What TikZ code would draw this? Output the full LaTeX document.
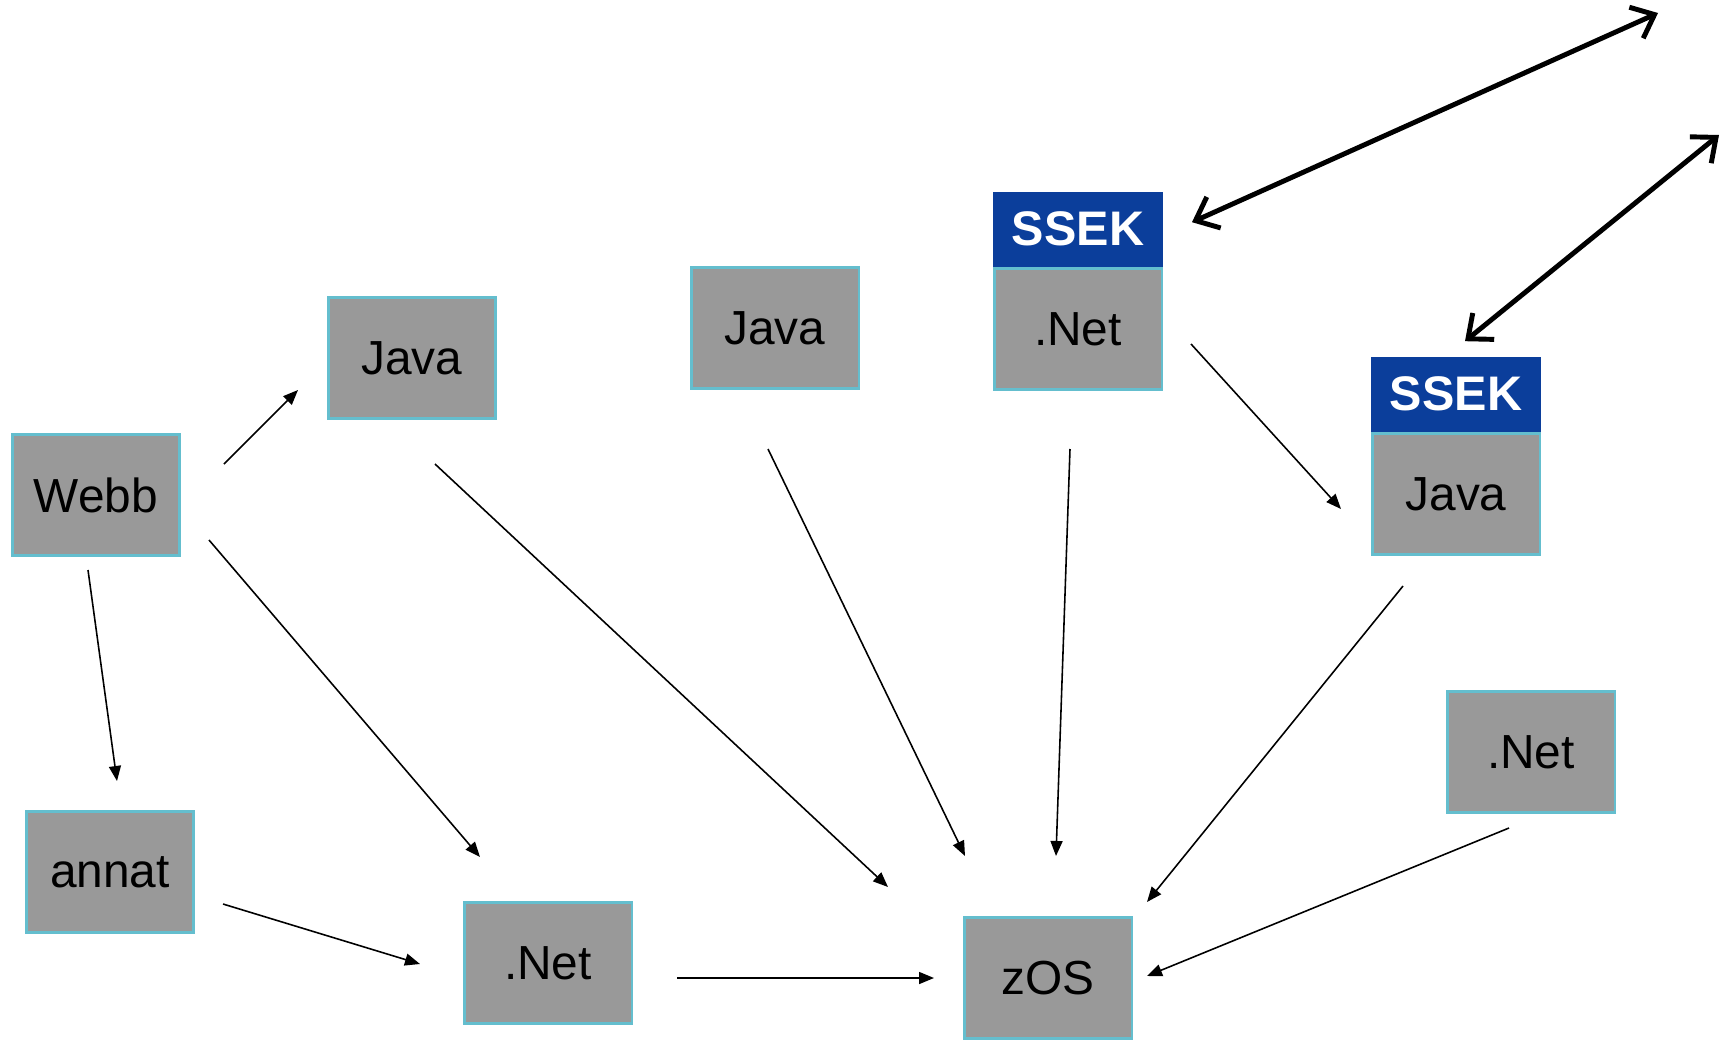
\documentclass[tikz,border=0pt]{standalone}
\usepackage{fontspec}
\setmainfont{Liberation Sans}
\usetikzlibrary{positioning,arrows.meta}
\definecolor{boxgray}{RGB}{153,153,153}
\definecolor{boxedge}{RGB}{100,190,206}
\definecolor{ssekblue}{RGB}{11,62,155}
\begin{document}
\begin{tikzpicture}[x=0.01cm, y=-0.01cm,
	sys/.style={draw=boxedge, line width=0.6pt, fill=boxgray, minimum width=1.67cm, minimum height=1.21cm, inner sep=0pt, font=\fontsize{13.6}{16}\selectfont},
	tag/.style={fill=ssekblue, text=white, minimum width=1.69cm, minimum height=0.75cm, inner sep=0pt, font=\fontsize{13.8}{16}\selectfont\bfseries},
	link/.style={-{Triangle[length=0.15cm, width=0.12cm]}, line width=0.45pt},
	wide/.style={{Straight Barb[length=0.2cm, width=0.34cm]}-{Straight Barb[length=0.2cm, width=0.34cm]}, line width=1.4pt, line cap=round}]
	\useasboundingbox (0,0) rectangle (1733,1039);
	% systems
	\node[sys] (webb) at (96,495) {Webb};
	\node[sys] (annat) at (110,872) {annat};
	\node[sys] (javaA) at (412,358) {Java};
	\node[sys] (netB) at (548,963) {.Net};
	\node[sys] (javaB) at (775,328) {Java};
	\node[sys] (netA) at (1078,329) {.Net};
	\node[tag, above=0pt of netA] (ssekA) {SSEK};
	\node[sys] (javaC) at (1456,494) {Java};
	\node[tag, above=0pt of javaC] (ssekB) {SSEK};
	\node[sys] (netR) at (1531,752) {.Net};
	\node[sys] (zos) at (1048,978) {zOS};
	% calls
	\draw[link] ([shift={(128,-31)}]webb.center) -- ([shift={(-114,32)}]javaA.center);
	\draw[link] ([shift={(113,45)}]webb.center) -- ([shift={(-68,-106)}]netB.center);
	\draw[link] ([shift={(-8,75)}]webb.center) -- ([shift={(7,-91)}]annat.center);
	\draw[link] ([shift={(113,32)}]annat.center) -- ([shift={(-128,1)}]netB.center);
	\draw[link] ([shift={(129,15)}]netB.center) -- ([shift={(-114,0)}]zos.center);
	\draw[link] ([shift={(23,106)}]javaA.center) -- ([shift={(-160,-91)}]zos.center);
	\draw[link] ([shift={(-7,121)}]javaB.center) -- ([shift={(-83,-122)}]zos.center);
	\draw[link] ([shift={(-8,120)}]netA.center) -- ([shift={(8,-122)}]zos.center);
	\draw[link] ([shift={(113,15)}]netA.center) -- ([shift={(-115,15)}]javaC.center);
	\draw[link] ([shift={(-53,92)}]javaC.center) -- ([shift={(99,-76)}]zos.center);
	\draw[link] ([shift={(-22,76)}]netR.center) -- ([shift={(99,-2)}]zos.center);
	% outside
	\coordinate (outA) at (1658,13);
	\coordinate (outB) at (1719,135);
	\draw[wide] ([shift={(114,-7)}]ssekA.center) -- (outA);
	\draw[wide] ([shift={(9,-53)}]ssekB.center) -- (outB);
\end{tikzpicture}
\end{document}
